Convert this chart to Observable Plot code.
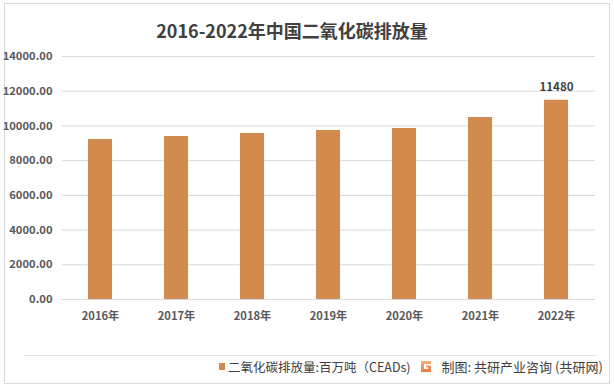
<!DOCTYPE html>
<html>
<head>
<meta charset="utf-8">
<script src="https://cdn.jsdelivr.net/npm/d3@7"></script>
<script src="https://cdn.jsdelivr.net/npm/@observablehq/plot@0.6"></script>
<style>
  html, body { margin: 0; padding: 0; background: #ffffff; }
  #wrap { position: relative; width: 614px; height: 388px; overflow: hidden; background: #fff;
          font-family: "Microsoft YaHei", "Noto Sans CJK SC", "Noto Sans", sans-serif; }
  #frame { position: absolute; left: 4px; top: 3px; width: 604px; height: 379px; border: 1px solid #d9d9d9; }
  #title { position: absolute; left: 0; top: 17px; width: 584px; text-align: center;
           font-size: 18px; font-weight: bold; color: #404040; }
  #chart { position: absolute; left: 0; top: 40px; }
  #rule { position: absolute; left: 24px; top: 355px; width: 573px; height: 0; border-top: 1px solid #e3e3e3; }
  #legend { position: absolute; left: 219px; top: 356px; height: 20px; display: flex; align-items: center;
            font-size: 12.5px; color: #404040; white-space: nowrap; }
  #legend .sw { display: inline-block; width: 6px; height: 7px; background: #d38b4d; margin-right: 3px; }
  #legend .src { margin-left: 9px; display: flex; align-items: center; font-size: 13px; }
  #legend svg { margin-right: 10px; }
</style>
</head>
<body>
<div id="wrap">
  <div id="frame"></div>
  <div id="title"></div>
  <div id="chart"></div>
  <div id="rule"></div>
  <div id="legend"></div>
</div>
<script>
const titleText = "2016-2022年中国二氧化碳排放量";
const years = ["2016年", "2017年", "2018年", "2019年", "2020年", "2021年", "2022年"];
const emissions = [9218, 9391, 9564, 9737, 9852, 10486, 11480];
const yTicks = [0, 2000, 4000, 6000, 8000, 10000, 12000, 14000];
const labeledYear = "2022年";
const legendLabel = "二氧化碳排放量:百万吨（CEADs)";
const sourceLabel = "制图: 共研产业咨询 (共研网)";

const data = years.map((y, i) => ({year: y, value: emissions[i]}));
const fontFamily = "'Microsoft YaHei', 'Noto Sans CJK SC', 'Noto Sans', sans-serif";

document.getElementById("title").textContent = titleText;

const chart = Plot.plot({
  width: 614,
  height: 290,
  marginLeft: 62,
  marginRight: 19,
  marginTop: 16,
  marginBottom: 31,
  style: {fontFamily, fontSize: "12px", color: "#595959", background: "transparent", overflow: "visible"},
  x: {domain: years, paddingInner: 0.684, paddingOuter: 0.342, label: null},
  y: {domain: [0, 14000], label: null},
  marks: [
    Plot.gridY(yTicks, {stroke: "#d9d9d9", strokeOpacity: 1, strokeWidth: 1}),
    Plot.barY(data, {x: "year", y: "value", fill: "#d38b4d"}),
    Plot.axisY(yTicks, {tickSize: 0, tickPadding: 10, tickFormat: d3.format(".2f"), label: null,
      fill: "#595959", fontWeight: 600, fontSize: 11.2}),
    Plot.axisX({tickSize: 0, tickPadding: 13, label: null, fill: "#595959", fontWeight: 600, fontSize: 11.2}),
    Plot.text(data.filter(d => d.year === labeledYear), {x: "year", y: "value", text: d => String(d.value),
      dy: -13, fill: "#404040", fontSize: 11.5, fontWeight: 600})
  ]
});
document.getElementById("chart").appendChild(chart);

const legend = document.getElementById("legend");
legend.innerHTML = `<span class="sw"></span><span>${legendLabel}</span>
<span class="src"><svg width="12" height="13" viewBox="0 0 12 13">
<defs><linearGradient id="lg" x1="0" y1="0" x2="0" y2="1"><stop offset="0" stop-color="#f7b27a"/><stop offset="1" stop-color="#ef7a3c"/></linearGradient></defs>
<path d="M1 1 H11 V4 H4 V9 H8 V7 H6 V5.5 H11 V12 H1 Z" fill="url(#lg)"/>
</svg><span>${sourceLabel}</span></span>`;
</script>
</body>
</html>
